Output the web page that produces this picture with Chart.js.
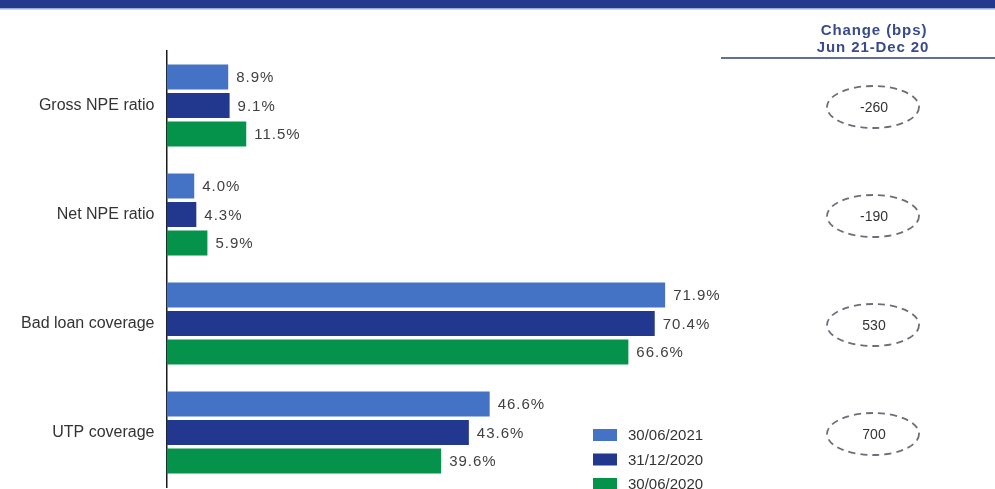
<!DOCTYPE html>
<html>
<head>
<meta charset="utf-8">
<script src="https://cdn.jsdelivr.net/npm/chart.js@4/dist/chart.umd.min.js"></script>
<style>
  html, body { margin: 0; padding: 0; background: #ffffff; }
  #wrap { width: 995px; height: 489px; position: relative; }
</style>
</head>
<body>
<div id="wrap"><canvas id="c" width="995" height="489"></canvas></div>
<script>
// Asset quality indicators, three reporting dates
const categories = ['Gross NPE ratio', 'Net NPE ratio', 'Bad loan coverage', 'UTP coverage'];
const seriesNames = ['30/06/2021', '31/12/2020', '30/06/2020'];
const jun2021 = [8.9, 4.0, 71.9, 46.6];
const dec2020 = [9.1, 4.3, 70.4, 43.6];
const jun2020 = [11.5, 5.9, 66.6, 39.6];
// Change in basis points, Jun 21 vs Dec 20
const changeBps = ['-260', '-190', '530', '700'];
const changeTitle = ['Change (bps)', 'Jun 21-Dec 20'];

const colors = ['#4472C4', '#22388E', '#05924A'];
const FONT = '"Liberation Sans", Arial, sans-serif';

const seriesValues = [jun2021, dec2020, jun2020];

const decorations = {
  id: 'decorations',
  beforeDraw(chart) {
    const ctx = chart.ctx;
    ctx.save();
    // top banner strip
    ctx.fillStyle = '#22398F';
    ctx.fillRect(0, 0, chart.width, 8);
    ctx.fillStyle = '#9AA9D2';
    ctx.fillRect(0, 8, chart.width, 1.5);
    ctx.restore();
  },
  afterDatasetsDraw(chart) {
    const ctx = chart.ctx;
    ctx.save();
    ctx.font = '15px ' + FONT;
    ctx.fillStyle = '#404040';
    ctx.textBaseline = 'middle';
    ctx.textAlign = 'left';
    ctx.letterSpacing = '1px';
    chart.data.datasets.forEach((ds, di) => {
      const meta = chart.getDatasetMeta(di);
      meta.data.forEach((bar, i) => {
        ctx.fillText(ds.data[i].toFixed(1) + '%', bar.x + 8, bar.y + 1);
      });
    });
    ctx.restore();
  },
  afterDraw(chart) {
    const ctx = chart.ctx;
    const yScale = chart.scales.y;
    ctx.save();

    // change column header
    const cx = 873;
    ctx.fillStyle = '#3A4B8C';
    ctx.font = 'bold 15px ' + FONT;
    ctx.letterSpacing = '0.9px';
    ctx.textAlign = 'center';
    ctx.textBaseline = 'middle';
    ctx.fillText(changeTitle[0], cx + 1, 31);
    ctx.fillText(changeTitle[1], cx, 48);
    ctx.letterSpacing = '0px';
    ctx.strokeStyle = '#2B3F7E';
    ctx.lineWidth = 1.5;
    ctx.beginPath();
    ctx.moveTo(721, 58);
    ctx.lineTo(995, 58);
    ctx.stroke();

    // dashed ellipses with the bps change per category
    categories.forEach((c, i) => {
      const y = yScale.getPixelForValue(i) + 1.5;
      ctx.setLineDash([7, 5]);
      ctx.strokeStyle = '#6E6E78';
      ctx.lineWidth = 1.8;
      ctx.beginPath();
      ctx.ellipse(cx, y, 46, 21, 0, 0, Math.PI * 2);
      ctx.stroke();
      ctx.setLineDash([]);
      ctx.fillStyle = '#333333';
      ctx.font = '14px ' + FONT;
      ctx.fillText(changeBps[i], cx + 1, y + 1);
    });

    // legend
    ctx.textAlign = 'left';
    ctx.font = '15px ' + FONT;
    chart.data.datasets.forEach((ds, di) => {
      const y = 435 + di * 24.5;
      ctx.fillStyle = ds.backgroundColor;
      ctx.fillRect(593, y - 6, 24, 12);
      ctx.fillStyle = '#333333';
      ctx.fillText(ds.label, 628, y + 1);
    });
    ctx.restore();
  }
};

new Chart(document.getElementById('c'), {
  type: 'bar',
  data: {
    labels: categories,
    datasets: seriesNames.map((name, i) => ({
      label: name,
      data: seriesValues[i],
      backgroundColor: colors[i],
      borderWidth: 0,
      categoryPercentage: 0.785,
      barPercentage: 0.87
    }))
  },
  options: {
    indexAxis: 'y',
    responsive: false,
    devicePixelRatio: 1,
    animation: false,
    layout: { padding: { left: 0, right: 135, top: 51, bottom: 2 } },
    plugins: {
      legend: { display: false },
      tooltip: { enabled: false }
    },
    scales: {
      x: { display: false, min: 0, max: 100 },
      y: {
        grid: { display: false, drawTicks: false },
        border: { display: true, color: '#1a1a1a', width: 1.5 },
        ticks: {
          color: '#333333',
          font: { family: FONT, size: 16 },
          padding: 12
        },
        afterFit(scale) {
          scale.width = 166.5;
          scale.paddingTop = 0;
          scale.paddingBottom = 0;
        }
      }
    }
  },
  plugins: [decorations]
});
</script>
</body>
</html>
